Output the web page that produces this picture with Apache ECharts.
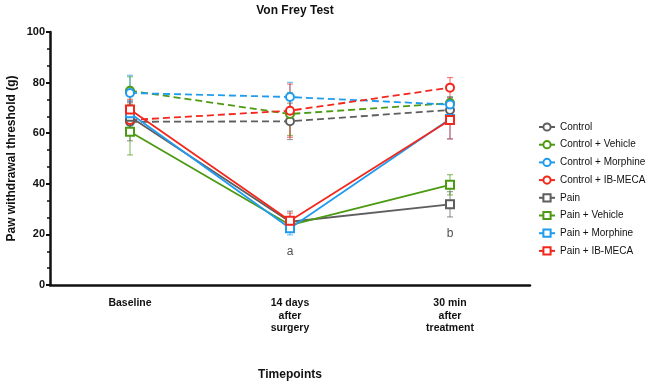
<!DOCTYPE html>
<html><head><meta charset="utf-8">
<script src="https://cdn.jsdelivr.net/npm/echarts@6/dist/echarts.min.js"></script>
<style>html,body{margin:0;padding:0;background:#fff}#c{width:649px;height:383px}</style>
</head><body><div id="c"></div>
<script>
const categories = ['Baseline', '14 days\nafter\nsurgery', '30 min\nafter\ntreatment'];
const seriesNames = ['Control', 'Control + Vehicle', 'Control + Morphine', 'Control + IB-MECA', 'Pain', 'Pain + Vehicle', 'Pain + Morphine', 'Pain + IB-MECA'];
const control = [64.5, 64.7, 69.2];
const controlSem = [7.5, 7.2, 3.0];
const controlVehicle = [76.8, 67.6, 71.9];
const controlVehicleSem = [5.5, 8.5, 2.5];
const controlMorphine = [75.9, 74.3, 71.3];
const controlMorphineSem = [7.0, 5.8, 3.0];
const controlIB = [65.2, 68.9, 78.0];
const controlIBSem = [5.0, 10.5, 4.0];
const pain = [66.5, 25.0, 31.9];
const painSem = [6.0, 4.2, 5.0];
const painVehicle = [60.6, 23.7, 39.6];
const painVehicleSem = [9.2, 2.0, 4.0];
const painMorphine = [67.9, 22.4, 65.6];
const painMorphineSem = [5.0, 2.6, 7.8];
const painIB = [69.4, 25.4, 65.2];
const painIBSem = [4.0, 3.0, 7.5];
const annotations = [['14 days\nafter\nsurgery', 13.3, 'a'], ['30 min\nafter\ntreatment', 20.3, 'b']];

const values = [control, controlVehicle, controlMorphine, controlIB, pain, painVehicle, painMorphine, painIB];
const sems = [controlSem, controlVehicleSem, controlMorphineSem, controlIBSem, painSem, painVehicleSem, painMorphineSem, painIBSem];
const colors = ['#5e5e5e', '#4c9a12', '#1f9cf0', '#f2281c', '#5e5e5e', '#4c9a12', '#1f9cf0', '#f2281c'];
const font = 'Liberation Sans, Arial, sans-serif';

const series = [];
values.forEach((v, i) => {
  series.push({
    name: seriesNames[i] + ' SEM',
    type: 'custom',
    data: v.map((y, j) => [j, y - sems[i][j], y + sems[i][j]]),
    encode: {x: 0, y: [1, 2]},
    silent: true,
    z: 1,
    renderItem: function (params, api) {
      const x = api.value(0);
      const lo = api.coord([x, api.value(1)]);
      const hi = api.coord([x, api.value(2)]);
      const w = 3;
      const st = {stroke: colors[i], lineWidth: 1.2, opacity: 0.6};
      return {type: 'group', children: [
        {type: 'line', shape: {x1: lo[0], y1: lo[1], x2: hi[0], y2: hi[1]}, style: st},
        {type: 'line', shape: {x1: lo[0] - w, y1: lo[1], x2: lo[0] + w, y2: lo[1]}, style: st},
        {type: 'line', shape: {x1: hi[0] - w, y1: hi[1], x2: hi[0] + w, y2: hi[1]}, style: st}
      ]};
    }
  });
});
values.forEach((v, i) => {
  const isControl = i < 4;
  series.push({
    name: seriesNames[i],
    type: 'line',
    data: v,
    z: 2,
    symbol: isControl ? 'emptyCircle' : 'emptyRect',
    symbolSize: 8,
    showSymbol: true,
    color: colors[i],
    itemStyle: {color: colors[i], borderWidth: 1.5},
    lineStyle: {color: colors[i], width: 1.8, type: isControl ? [7, 4] : 'solid'},
    emphasis: {disabled: true}
  });
});
series.push({
  type: 'scatter',
  data: annotations.map(a => [a[0], a[1], a[2]]),
  symbolSize: 0,
  silent: true,
  label: {show: true, position: 'inside', formatter: p => p.data[2], fontFamily: font, fontSize: 12, color: '#222'}
});

const chart = echarts.init(document.getElementById('c'), null, {renderer: 'canvas'});
chart.setOption({
  animation: false,
  backgroundColor: '#fff',
  title: {text: 'Von Frey Test', left: 290, top: 0, textAlign: 'center',
    textStyle: {fontFamily: font, fontSize: 12, fontWeight: 'bold', color: '#111'}},
  legend: {
    orient: 'vertical', left: 538, top: 122, padding: 0, itemGap: 7.7, itemWidth: 16, itemHeight: 9,
    data: seriesNames.map(n => ({name: n, lineStyle: {type: 'solid'}})),
    textStyle: {fontFamily: font, fontSize: 10, color: '#111'},
    selectedMode: false
  },
  grid: {left: 50, right: 119, top: 32, bottom: 98, outerBoundsMode: 'none', containLabel: false},
  xAxis: {
    type: 'category', data: categories, boundaryGap: true,
    name: 'Timepoints', nameLocation: 'middle', nameGap: 84,
    nameTextStyle: {fontFamily: font, fontSize: 12, fontWeight: 'bold', color: '#111'},
    axisLine: {lineStyle: {color: '#111', width: 2.5}},
    axisTick: {alignWithLabel: true, length: 4, lineStyle: {color: '#111', width: 2}},
    axisLabel: {fontFamily: font, fontSize: 10.5, fontWeight: 'bold', color: '#111', margin: 12, lineHeight: 12.5},
    splitLine: {show: false}
  },
  yAxis: {
    type: 'value', min: 0, max: 100, interval: 20,
    name: 'Paw withdrawal threshold (g)', nameLocation: 'middle', nameGap: 32, nameMoveOverlap: false,
    nameTextStyle: {fontFamily: font, fontSize: 12, fontWeight: 'bold', color: '#111'},
    axisLine: {show: true, lineStyle: {color: '#111', width: 2.5}},
    axisTick: {show: true, length: 4, lineStyle: {color: '#111', width: 2}},
    minorTick: {show: true, splitNumber: 3, length: 3, lineStyle: {color: '#111', width: 1.5}},
    axisLabel: {fontFamily: font, fontSize: 11, fontWeight: 'bold', color: '#111', margin: 5},
    splitLine: {show: false}
  },
  series: series
});
</script></body></html>
